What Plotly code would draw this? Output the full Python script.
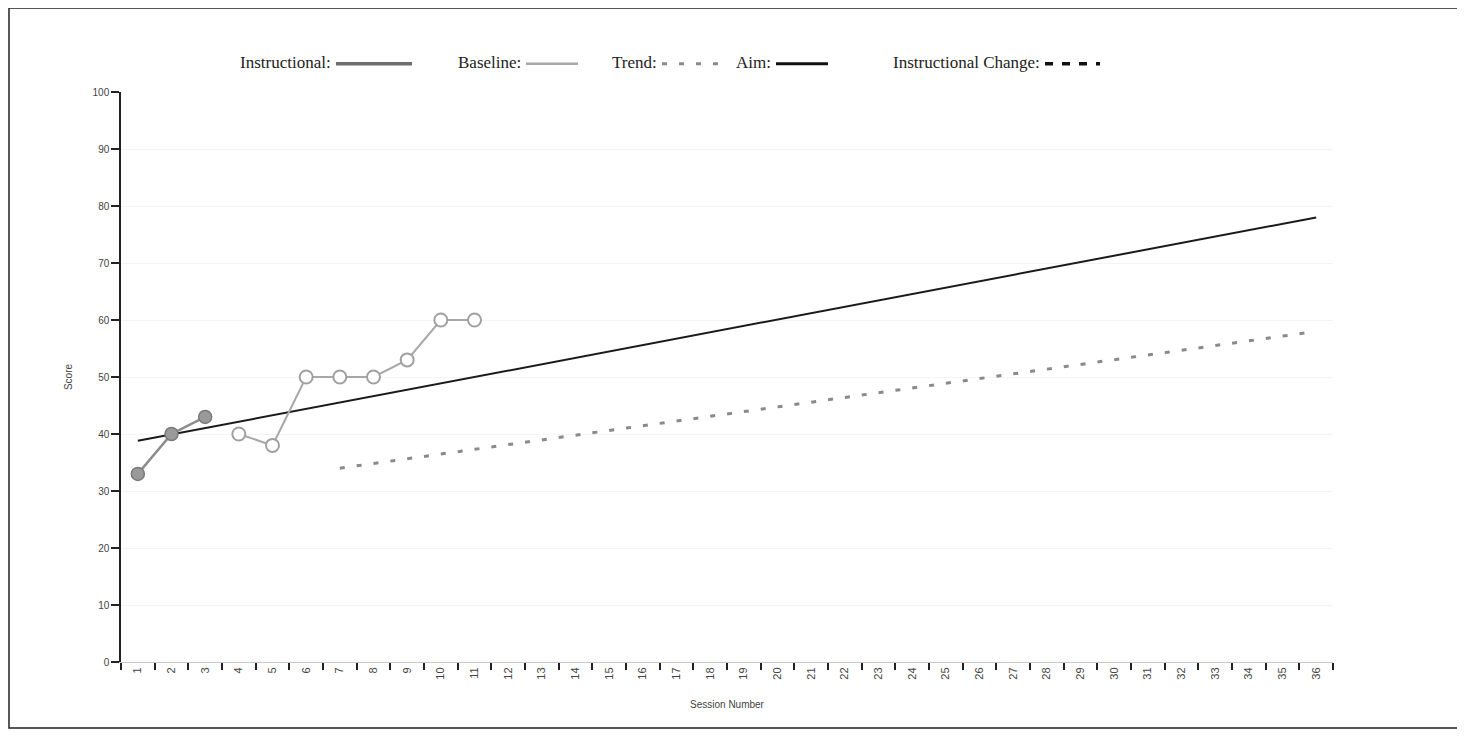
import plotly.graph_objects as go

# session categories on the x axis
sessions = [str(i) for i in range(1, 37)]

# scores
baseline_sessions = ["1", "2", "3"]
baseline_scores = [33, 40, 43]

instr_sessions = ["4", "5", "6", "7", "8", "9", "10", "11"]
instr_scores = [40, 38, 50, 50, 50, 53, 60, 60]

aim_sessions = ["1", "36"]
aim_scores = [38.8, 78]

trend_sessions = ["7", "36"]
trend_scores = [34, 58]

y_ticks = list(range(0, 101, 10))

# page has an 8px body margin, so work in screen px and shift
OFF = 8
W, H = 1465 - 2 * OFF, 739 - 2 * OFF
L, R, T, B = 121 - OFF, 1333 - OFF, 92 - OFF, 662 - OFF


def px(x):
    return (x - OFF - L) / (R - L)


def py(y):
    return (B - (y - OFF)) / (B - T)


fig = go.Figure()

fig.add_trace(go.Scatter(
    x=aim_sessions, y=aim_scores, mode="lines",
    line=dict(color="#1a1a1a", width=2), hoverinfo="skip",
))
fig.add_trace(go.Scatter(
    x=trend_sessions, y=trend_scores, mode="lines",
    line=dict(color="#8a8a8a", width=3, dash="5px,12px"), hoverinfo="skip",
))
fig.add_trace(go.Scatter(
    x=baseline_sessions, y=baseline_scores, mode="lines+markers",
    line=dict(color="#8c8c8c", width=2.5),
    marker=dict(size=13, color="#9a9a9a", line=dict(color="#7a7a7a", width=1.5)),
))
fig.add_trace(go.Scatter(
    x=instr_sessions, y=instr_scores, mode="lines+markers",
    line=dict(color="#a8a8a8", width=2),
    marker=dict(size=13, color="white", line=dict(color="#a0a0a0", width=2)),
))

# hand-made legend: text first, then the line sample
legend_font = dict(family="Liberation Serif, Times New Roman, serif", size=17, color="#222")
legend_y = py(62)
labels = [
    ("Instructional:", 336, 412, dict(color="#6e6e6e", width=3.5)),
    ("Baseline:", 526, 578, dict(color="#a8a8a8", width=2.5)),
    ("Trend:", 662, 722, dict(color="#8a8a8a", width=3, dash="5px,12px")),
    ("Aim:", 776, 828, dict(color="#111", width=3)),
    ("Instructional Change:", 1045, 1100, dict(color="#111", width=3.5, dash="8px,9px")),
]
for text, lx0, lx1, line in labels:
    fig.add_annotation(
        x=px(lx0 - 3), y=legend_y, xref="paper", yref="paper", text=text,
        showarrow=False, xanchor="right", yanchor="middle", font=legend_font,
    )
    fig.add_shape(
        type="line", xref="paper", yref="paper",
        x0=px(lx0), x1=px(lx1), y0=legend_y - 0.003, y1=legend_y - 0.003, line=line,
    )

# scanned page border
fig.add_shape(
    type="rect", xref="paper", yref="paper",
    x0=px(9), x1=px(1458), y0=py(728), y1=py(8),
    line=dict(color="#222", width=1.5),
)

fig.update_layout(
    width=W, height=H,
    margin=dict(l=L, r=W - R, t=T, b=H - B),
    plot_bgcolor="white", paper_bgcolor="white",
    showlegend=False,
    font=dict(family="Arial, Liberation Sans, sans-serif", size=10, color="#444"),
)
fig.update_xaxes(
    type="category", categoryorder="array", categoryarray=sessions,
    range=[-0.5, 35.5], tickson="boundaries",
    ticks="outside", ticklen=7, tickcolor="#222", tickwidth=1.5,
    tickangle=-90, tickfont=dict(size=11, color="#444"),
    showline=True, linecolor="#c8c8c8", linewidth=1,
    showgrid=False, zeroline=False,
    title=dict(text="Session Number", font=dict(size=10, color="#444"), standoff=22),
)
fig.update_yaxes(
    range=[0, 100], tickvals=y_ticks,
    ticks="outside", ticklen=8, tickcolor="#222", tickwidth=1.5,
    showline=True, linecolor="#222", linewidth=1.5,
    showgrid=True, gridcolor="#f4f4f4", zeroline=False,
    tickfont=dict(size=10, color="#444"),
    title=dict(text="Score", font=dict(size=10, color="#444"), standoff=18),
)

fig.write_html("out.html")
